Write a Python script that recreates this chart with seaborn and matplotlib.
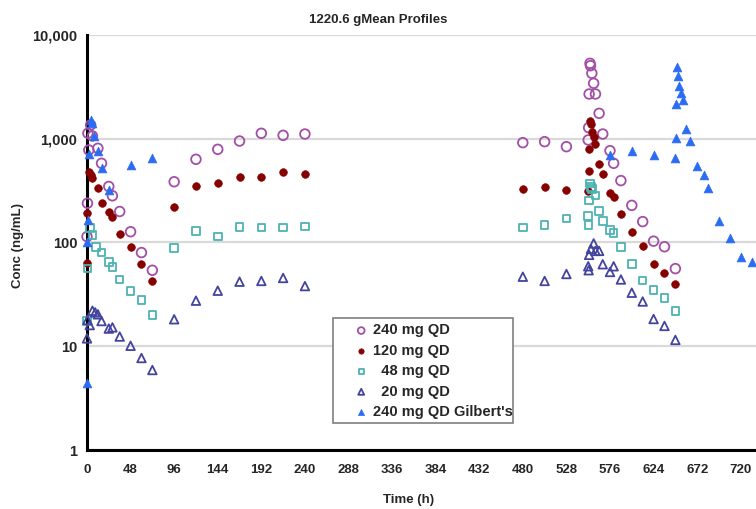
import matplotlib
matplotlib.use("Agg")
import matplotlib.pyplot as plt
from matplotlib.patches import Rectangle
from matplotlib.ticker import FixedLocator, MultipleLocator, LogLocator, FuncFormatter, NullFormatter
import pandas as pd
import seaborn as sns

# Geometric-mean concentration profiles (ng/mL) by time after first dose (h)
t_240 = [0, 0.5, 1, 2, 4, 6, 12, 16, 24, 28, 36, 48, 60, 72,
         96, 120, 144, 168, 192, 216, 240,
         480, 504, 528, 552, 552.5, 553, 554, 554.5, 556, 558, 560, 564, 568,
         576, 580, 588, 600, 612, 624, 636, 648]
c_240 = [114, 239, 1130, 779, 1357, 1064, 809, 580, 347, 282, 199, 127, 80, 54,
         385, 634, 791, 951, 1129, 1079, 1111,
         917, 937, 839, 973, 1279, 2700, 5333, 5060, 4277, 3423, 2700, 1758, 1111,
         767, 580, 395, 228, 159, 103, 91, 56]

t_120 = [0, 0.5, 2, 4, 6, 12, 16, 24, 28, 36, 48, 60, 72,
         96, 120, 144, 168, 192, 216, 240,
         480, 504, 528, 552, 552.5, 553, 554, 555, 556, 558, 560, 564, 568,
         576, 580, 588, 600, 612, 624, 636, 648]
c_120 = [63, 191, 481, 448, 416, 338, 239, 196, 175, 122, 90, 62, 43,
         221, 351, 378, 431, 425, 474, 457,
         326, 341, 318, 313, 492, 791, 1493, 1387, 1169, 1033, 889, 567, 454,
         302, 276, 188, 125, 93, 62, 51, 40]

t_48 = [0, 0.5, 3, 6, 10, 16, 24, 28, 36, 48, 60, 72,
        96, 120, 144, 168, 192, 216, 240,
        480, 504, 528, 552, 552.5, 553, 554, 555, 556, 560, 564, 568,
        576, 580, 588, 600, 612, 624, 636, 648]
c_48 = [17.5, 56, 138, 118, 91, 80, 65, 58, 44, 34, 28, 20,
        89, 129, 114, 142, 140, 140, 143,
        140, 147, 171, 181, 147, 253, 372, 345, 327, 284, 201, 161,
        132, 124, 91, 62, 43, 35, 29, 22]

t_20 = [0, 0.5, 3, 6, 9, 12, 16, 24, 28, 36, 48, 60, 72,
        96, 120, 144, 168, 192, 216, 240,
        480, 504, 528, 552, 552.5, 553, 555, 558, 560, 564, 568,
        576, 580, 588, 600, 612, 624, 636, 648]
c_20 = [11.9, 17.9, 16, 22, 21.2, 20.3, 17.5, 14.8, 15.2, 12.4, 10.1, 7.7, 5.9,
        18.2, 27.5, 34.3, 41.9, 42.6, 45.5, 38,
        46.8, 42.6, 49.7, 59, 54, 76, 86.5, 98, 83, 83, 61.7,
        52, 59, 44, 32.8, 27, 18.3, 15.7, 11.5]

t_gil = [0, 0.5, 1, 2, 4, 5, 8, 12, 16, 24, 48, 72,
         576, 600, 624, 648, 648.5, 649, 650, 651, 652, 654, 656, 660, 664,
         672, 680, 684, 696, 708, 720, 732]
c_gil = [4.4, 102, 163, 708, 1532, 1409, 1064, 762, 526, 318, 558, 648,
         697, 762, 697, 657, 1010, 2148, 4946, 4025, 3225, 2777, 2362, 1233, 958,
         546, 448, 337, 161, 111, 72, 65]

series_labels = ["240 mg QD", "120 mg QD", "  48 mg QD", "  20 mg QD", "240 mg QD Gilbert's"]
x_ticks = list(range(0, 721, 48))
y_ticks = [1, 10, 100, 1000, 10000]

sns.set_style("white")
plt.rcParams["font.family"] = ["Liberation Sans", "DejaVu Sans"]
plt.rcParams["font.weight"] = "bold"

frames = []
for lab, t, c in zip(series_labels,
                     [t_240, t_120, t_48, t_20, t_gil],
                     [c_240, c_120, c_48, c_20, c_gil]):
    frames.append(pd.DataFrame({"Time": t, "Conc": c, "Group": lab}))
df = pd.concat(frames, ignore_index=True)

styles = {
    "240 mg QD": dict(marker="o", color="#a24fa6", filled=False, s=48),
    "120 mg QD": dict(marker="o", color="#870000", filled=True, s=30),
    "  48 mg QD": dict(marker="s", color="#4db3b3", filled=False, s=30),
    "  20 mg QD": dict(marker="^", color="#44449e", filled=False, s=38),
    "240 mg QD Gilbert's": dict(marker="^", color="#2b6cf2", filled=True, s=40),
}

W, H = 756, 509
fig = plt.figure(figsize=(W / 100, H / 100), dpi=100)
ax_left, ax_bottom, ax_w, ax_h = 87, 59, 669, 415
ax = fig.add_axes([ax_left / W, ax_bottom / H, ax_w / W, ax_h / H])


def px_to_axes(px, py):
    return (px - ax_left) / ax_w, (H - ax_bottom - py) / ax_h


for lab in series_labels:
    st = styles[lab]
    sub = df[df["Group"] == lab]
    kws = dict(marker=st["marker"], s=st["s"], color=st["color"], label=lab,
               clip_on=False, zorder=3)
    if st["filled"]:
        kws.update(edgecolor=st["color"], linewidth=0.5)
    else:
        kws.update(facecolor="none", edgecolor=st["color"], linewidth=1.3)
    sns.scatterplot(data=sub, x="Time", y="Conc", ax=ax, legend=False, **kws)

ax.set_yscale("log")
ax.set_ylim(1, 10000)
ax.set_xlim(0, 736.8)

ax.yaxis.set_major_locator(FixedLocator(y_ticks))
ax.yaxis.set_major_formatter(FuncFormatter(lambda v, p: f"{int(round(v)):,}"))
ax.yaxis.set_minor_locator(LogLocator(base=10, subs=range(2, 10)))
ax.yaxis.set_minor_formatter(NullFormatter())
ax.xaxis.set_major_locator(FixedLocator(x_ticks))
ax.xaxis.set_minor_locator(MultipleLocator(8))

ax.grid(axis="y", which="major", color="#d9d9d9", linewidth=1.6, zorder=0)
ax.set_axisbelow(True)
for side in ["top", "right"]:
    ax.spines[side].set_visible(False)
for side in ["left", "bottom"]:
    ax.spines[side].set_color("black")
    ax.spines[side].set_linewidth(2.2)

ax.tick_params(axis="both", which="major", direction="inout", length=8, width=1.6,
               color="black")
ax.tick_params(axis="both", which="minor", direction="out", length=4, width=1.2,
               color="black")
ax.tick_params(axis="x", which="major", labelsize=9.5, pad=6)
ax.tick_params(axis="y", which="major", labelsize=10.5, pad=3)
for lbl in ax.get_xticklabels() + ax.get_yticklabels():
    lbl.set_fontweight("bold")

fig.text(0.5, 1 - 20 / H, "1220.6 gMean Profiles", ha="center", va="center",
         fontsize=9.5, fontweight="bold")
ax.set_xlabel("Time (h)", fontsize=9.5, fontweight="bold")
ax.set_ylabel("Conc (ng/mL)", fontsize=9.5, fontweight="bold")
ax.xaxis.set_label_coords(*px_to_axes(409, 500))
ax.yaxis.set_label_coords(*px_to_axes(18, 245))
ax.xaxis.label.set_va("center")
ax.yaxis.label.set_va("center")

# legend box
bx0, by0 = px_to_axes(333, 423)
bx1, by1 = px_to_axes(513, 318)
ax.add_patch(Rectangle((bx0, by0), bx1 - bx0, by1 - by0, transform=ax.transAxes,
                       facecolor="white", edgecolor="#7f7f7f", linewidth=1.2,
                       zorder=4, clip_on=False))

handles, labels = ax.get_legend_handles_labels()
leg = ax.legend(handles, labels, loc="upper left",
                bbox_to_anchor=px_to_axes(351, 319),
                frameon=False, prop={"weight": "bold", "size": 10.5},
                markerscale=0.7, handlelength=0.8, handletextpad=0.4,
                labelspacing=0.44, borderpad=0.3, borderaxespad=0)
leg.set_zorder(5)

fig.savefig("out.png", dpi=100)
